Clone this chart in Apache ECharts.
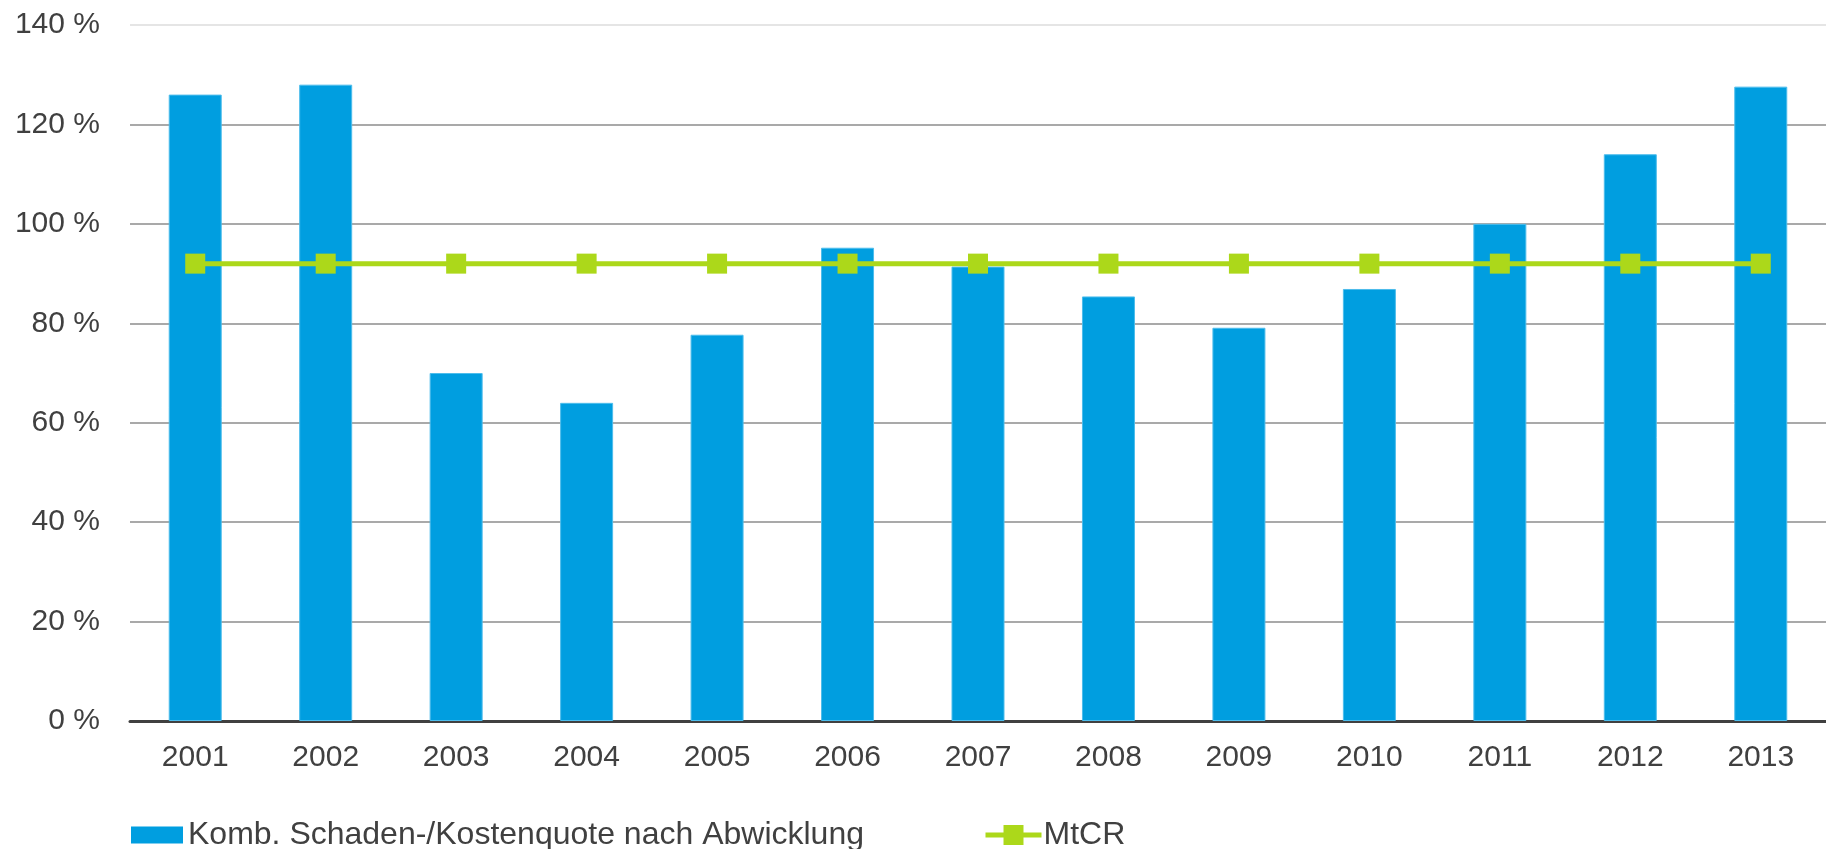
<!DOCTYPE html>
<html>
<head>
<meta charset="utf-8">
<script src="https://cdn.jsdelivr.net/npm/echarts@6/dist/echarts.min.js"></script>
<style>
  html, body { margin: 0; padding: 0; background: #fff; }
  #chart { width: 1826px; height: 849px; }
</style>
</head>
<body>
<div id="chart"></div>
<script>
const years = ["2001", "2002", "2003", "2004", "2005", "2006", "2007", "2008", "2009", "2010", "2011", "2012", "2013"];
const combinedRatio = [126, 128, 70, 64, 77.7, 95.2, 91.4, 85.4, 79.1, 86.9, 100, 114, 127.6];
const mtcr = [92, 92, 92, 92, 92, 92, 92, 92, 92, 92, 92, 92, 92];
const barName = "Komb. Schaden-/Kostenquote nach Abwicklung";
const lineName = "MtCR";

const font = "'Liberation Sans', Arial, sans-serif";
const textColor = "#404040";
const blue = "#009ee0";
const green = "#acd81a";

const chart = echarts.init(document.getElementById("chart"), null, { renderer: "canvas" });

const legendText = { fontFamily: font, fontSize: 32, color: textColor };

chart.setOption({
  animation: false,
  grid: { left: 130, right: 0, top: 25, bottom: 128, containLabel: false },
  legend: [
    {
      left: 131,
      top: 819,
      padding: 0,
      itemWidth: 52,
      itemHeight: 17,
      textStyle: Object.assign({ padding: [0, 0, 0, 0] }, legendText),
      itemStyle: { borderWidth: 0 },
      data: [{ name: barName, icon: "rect" }]
    },
    {
      left: 983,
      top: 819,
      padding: 0,
      itemWidth: 56,
      itemHeight: 25,
      textStyle: Object.assign({ padding: [0, 0, 0, -3] }, legendText),
      lineStyle: { width: 5 },
      data: [{ name: lineName }]
    }
  ],
  xAxis: {
    type: "category",
    data: years,
    axisLine: { lineStyle: { color: "#404040", width: 3 } },
    axisTick: { show: false },
    axisLabel: { fontFamily: font, fontSize: 30, color: textColor, margin: 22 }
  },
  yAxis: {
    type: "value",
    min: 0,
    max: 140,
    interval: 20,
    axisLine: { show: false },
    axisTick: { show: false },
    axisLabel: {
      fontFamily: font, fontSize: 30, color: textColor, margin: 30,
      formatter: (v) => v + " %"
    },
    splitLine: {
      lineStyle: {
        color: ["#8c8c8c", "#8c8c8c", "#8c8c8c", "#8c8c8c", "#8c8c8c", "#8c8c8c", "#8c8c8c", "#dcdcdc"],
        width: 1.5
      }
    }
  },
  series: [
    {
      name: barName,
      type: "bar",
      data: combinedRatio,
      barWidth: 53,
      itemStyle: { color: blue, borderColor: "#4dbdec", borderWidth: 1 }
    },
    {
      name: lineName,
      type: "line",
      data: mtcr,
      symbol: "rect",
      symbolSize: 20,
      lineStyle: { color: green, width: 5 },
      itemStyle: { color: green }
    }
  ]
});
</script>
</body>
</html>
